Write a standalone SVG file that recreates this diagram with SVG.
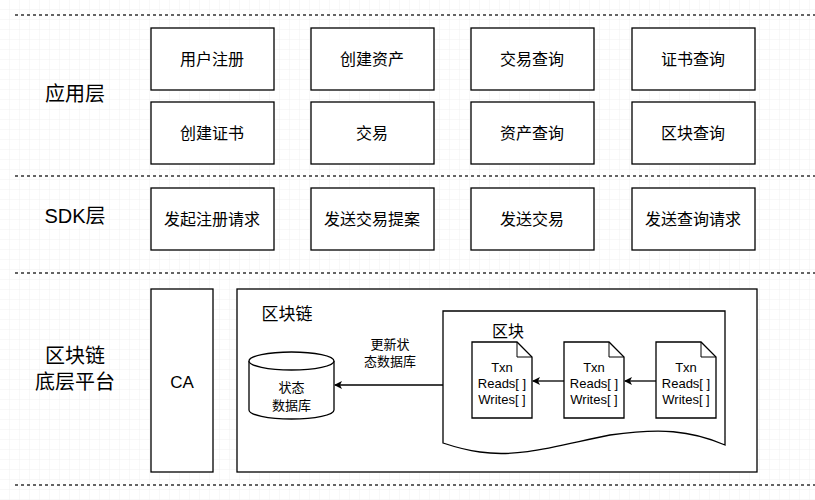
<svg xmlns="http://www.w3.org/2000/svg" width="815" height="500" viewBox="0 0 815 500">
<defs>
<pattern id="g" width="10" height="10" patternUnits="userSpaceOnUse"><path d="M10 0V10H0" fill="none" stroke="#f0f0f0" stroke-width="1"/></pattern>
<marker id="a" markerWidth="8" markerHeight="8" refX="7" refY="4" orient="auto" markerUnits="userSpaceOnUse"><path d="M0 0L8 4L0 8L2 4Z" fill="#000"/></marker>
<style>
.b{fill:#fff;stroke:#000;stroke-width:1.3}
.t{font-family:"Liberation Sans","Noto Sans CJK SC",sans-serif;font-size:16px;text-anchor:middle;dominant-baseline:central}
.s{font-size:13px}
.l{font-size:20px}
.d{stroke:#333;stroke-width:1.3;stroke-dasharray:3 3}
</style>
</defs>
<rect width="815" height="500" fill="#fff"/>
<rect width="815" height="500" fill="url(#g)"/>
<g id="dividers">
<line class="d" x1="15" y1="15" x2="815" y2="15"/>
<line class="d" x1="15" y1="176" x2="815" y2="176"/>
<line class="d" x1="15" y1="273" x2="815" y2="273"/>
<line class="d" x1="15" y1="485" x2="815" y2="485"/>
</g>
<g id="labels">
<text class="t l" x="75" y="94">应用层</text>
<text class="t l" x="75" y="216">SDK层</text>
<text class="t l" x="75" y="356">区块链</text>
<text class="t l" x="75" y="382">底层平台</text>
</g>
<g id="n1"><rect class="b" x="151" y="28" width="123" height="62"/><text class="t" x="212" y="59">用户注册</text></g>
<g id="n2"><rect class="b" x="311" y="28" width="123" height="62"/><text class="t" x="372" y="59">创建资产</text></g>
<g id="n3"><rect class="b" x="471" y="28" width="123" height="62"/><text class="t" x="532" y="59">交易查询</text></g>
<g id="n4"><rect class="b" x="632" y="28" width="123" height="62"/><text class="t" x="693" y="59">证书查询</text></g>
<g id="n5"><rect class="b" x="151" y="102" width="123" height="62"/><text class="t" x="212" y="133">创建证书</text></g>
<g id="n6"><rect class="b" x="311" y="102" width="123" height="62"/><text class="t" x="372" y="133">交易</text></g>
<g id="n7"><rect class="b" x="471" y="102" width="123" height="62"/><text class="t" x="532" y="133">资产查询</text></g>
<g id="n8"><rect class="b" x="632" y="102" width="123" height="62"/><text class="t" x="693" y="133">区块查询</text></g>
<g id="n9"><rect class="b" x="151" y="188" width="123" height="62"/><text class="t" x="212" y="219">发起注册请求</text></g>
<g id="n10"><rect class="b" x="311" y="188" width="123" height="62"/><text class="t" x="372" y="219">发送交易提案</text></g>
<g id="n11"><rect class="b" x="471" y="188" width="123" height="62"/><text class="t" x="532" y="219">发送交易</text></g>
<g id="n12"><rect class="b" x="632" y="188" width="123" height="62"/><text class="t" x="693" y="219">发送查询请求</text></g>
<g id="ca"><rect class="b" x="151" y="289" width="62" height="183"/><text class="t l" x="182" y="382" style="font-size:17px">CA</text></g>
<g id="chain"><rect class="b" x="237" y="289" width="520" height="183"/><text class="t" x="287" y="314" style="font-size:17px">区块链</text></g>
<g id="block"><path class="b" d="M443 311H725V445C690 430 660 428 610 435C560 445 520 458 480 452C465 450 455 447 443 443Z"/><text class="t" x="508" y="331">区块</text></g>
<g id="db"><path class="b" d="M249 361V410A42.5 9 0 0 0 334 410V361"/><ellipse class="b" cx="291.5" cy="361" rx="42.5" ry="9"/><text class="t s" x="291.5" y="387">状态</text><text class="t s" x="291.5" y="405">数据库</text></g>
<g id="tx1"><path class="b" d="M472 342H517L532 357V418H472Z"/><path d="M517 342V357H532" fill="none" stroke="#000"/><text class="t s" x="502" y="367">Txn</text><text class="t s" x="502" y="383">Reads[ ]</text><text class="t s" x="502" y="399">Writes[ ]</text></g>
<g id="tx2"><path class="b" d="M564 342H609L624 357V418H564Z"/><path d="M609 342V357H624" fill="none" stroke="#000"/><text class="t s" x="594" y="367">Txn</text><text class="t s" x="594" y="383">Reads[ ]</text><text class="t s" x="594" y="399">Writes[ ]</text></g>
<g id="tx3"><path class="b" d="M656 342H701L716 357V418H656Z"/><path d="M701 342V357H716" fill="none" stroke="#000"/><text class="t s" x="686" y="367">Txn</text><text class="t s" x="686" y="383">Reads[ ]</text><text class="t s" x="686" y="399">Writes[ ]</text></g>
<g id="connectors" stroke="#000" stroke-width="1.3" fill="none">
<line x1="443" y1="385" x2="335" y2="385" marker-end="url(#a)"/>
<line x1="564" y1="381" x2="533" y2="381" marker-end="url(#a)"/>
<line x1="656" y1="381" x2="625" y2="381" marker-end="url(#a)"/>
</g>
<g id="edge-label"><text class="t s" x="390" y="344">更新状</text><text class="t s" x="390" y="361">态数据库</text></g>
</svg>
